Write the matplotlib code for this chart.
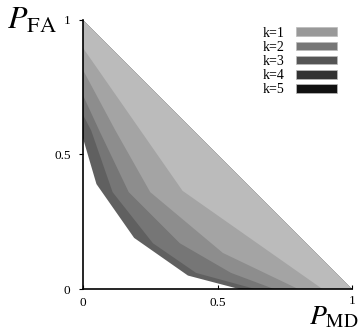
import numpy as np
import matplotlib
matplotlib.use("Agg")
import matplotlib.pyplot as plt
from matplotlib.patches import Patch
from matplotlib.colors import to_rgb

plt.rcParams['font.family'] = 'Liberation Serif'
plt.rcParams['mathtext.fontset'] = 'stix'

# curve per k: P_MD (x) vs P_FA (y)
labels = ['k=1', 'k=2', 'k=3', 'k=4', 'k=5']
colors = ['#999999', '#777777', '#555555', '#333333', '#111111']

x1 = [0, 0.37, 0.89]
y1 = [0.896, 0.365, 0]
x2 = [0, 0.12, 0.25, 0.52, 0.80]
y2 = [0.814, 0.59, 0.36, 0.134, 0]
x3 = [0, 0.06, 0.17, 0.36, 0.55, 0.71]
y3 = [0.72, 0.59, 0.36, 0.17, 0.06, 0]
x4 = [0, 0.03, 0.11, 0.26, 0.42, 0.64]
y4 = [0.647, 0.59, 0.36, 0.17, 0.06, 0]
x5 = [0, 0.05, 0.19, 0.39, 0.58]
y5 = [0.56, 0.39, 0.19, 0.05, 0]

curves = [(x1, y1), (x2, y2), (x3, y3), (x4, y4), (x5, y5)]
alpha = 0.67

fig = plt.figure(figsize=(3.6, 3.32), dpi=100)
ax = fig.add_axes([0.2306, 0.1295, 0.7472, 0.8103])

# largest region first, smaller ones on top
for (cx, cy), c in reversed(list(zip(curves, colors))):
    rgb = np.array(to_rgb(c))
    fc = 1 - alpha * (1 - rgb)
    px = [0] + list(cx) + [1]
    py = [1] + list(cy) + [0]
    ax.fill(px, py, color=fc, lw=0)

ax.set_xlim(0, 1)
ax.set_ylim(0, 1)
for s in ['top', 'right']:
    ax.spines[s].set_visible(False)
ax.spines['left'].set_linewidth(1.2)
ax.spines['bottom'].set_linewidth(1.2)

ax.set_xticks([0, 0.5, 1])
ax.set_xticklabels(['0', '0.5', ''])
ax.set_yticks([0, 0.5, 1])
ax.set_yticklabels(['0', '0.5', '1'])
ax.tick_params(axis='x', direction='in', length=3, pad=6, labelsize=9.5)
ax.tick_params(axis='y', direction='out', length=3, pad=6, labelsize=9.5)
# the "1" on the x axis sits a bit higher, above P_MD
ax.annotate('1', xy=(1, 0), xytext=(0, -4), textcoords='offset points',
            ha='center', va='top', fontsize=9.5)

fig.text(0.02, 0.935, r'$P_{\rm FA}$', fontsize=23, va='center', ha='left')
fig.text(0.997, 0.004, r'$P_{\rm MD}$', fontsize=20, va='bottom', ha='right')

handles = [Patch(facecolor=c, edgecolor='#bbbbbb', lw=0.5) for c in colors]
ax.legend(handles, labels, loc='upper right', bbox_to_anchor=(0.945, 0.975),
          frameon=False, markerfirst=False, fontsize=10, handlelength=3.0,
          handleheight=0.6, labelspacing=0.08, borderpad=0, borderaxespad=0,
          handletextpad=0.8)

fig.savefig('out.png', dpi=100)
